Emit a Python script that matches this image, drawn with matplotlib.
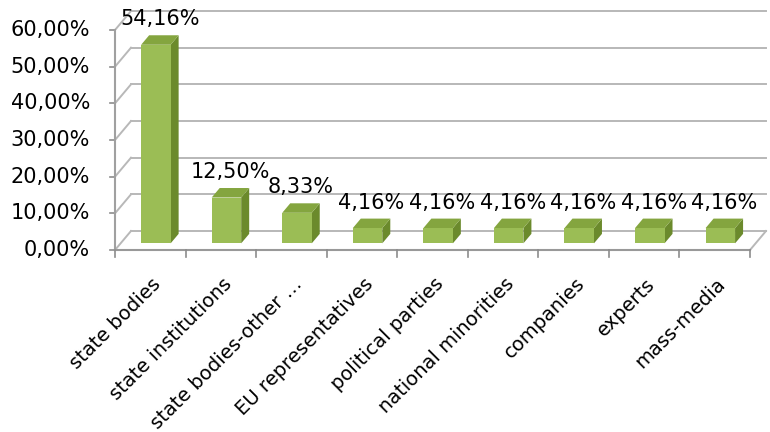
import matplotlib
matplotlib.use('Agg')
import matplotlib.pyplot as plt
from matplotlib.patches import Polygon

# datos
categorias = ['state bodies', 'state institutions', 'state bodies-other …',
              'EU representatives', 'political parties', 'national minorities',
              'companies', 'experts', 'mass-media']
valores = [54.16, 12.50, 8.33, 4.16, 4.16, 4.16, 4.16, 4.16, 4.16]
etiquetas = ['54,16%', '12,50%', '8,33%', '4,16%', '4,16%', '4,16%', '4,16%', '4,16%', '4,16%']
ticks_y = [0, 10, 20, 30, 40, 50, 60]
ticks_y_txt = ['0,00%', '10,00%', '20,00%', '30,00%', '40,00%', '50,00%', '60,00%']

plt.rcParams['font.family'] = ['DejaVu Sans']
fs = 15

fig = plt.figure(figsize=(7.7, 4.32), dpi=100)
ax = fig.add_axes([115 / 770, (432 - 250) / 432, 635 / 770, 220 / 432])
n = len(categorias)
ax.set_xlim(0, n)
ax.set_ylim(0, 60)
ax.axis('off')

# pixeles por unidad
px_x = 635 / n
px_y = 220 / 60.0
dx = 16 / px_x      # profundidad
dy = 19 / px_y

grid = '#b8b8b8'
# pared del fondo y lineas
for v in ticks_y:
    ax.plot([dx, n + dx], [v + dy, v + dy], color=grid, lw=1.4, clip_on=False, zorder=1)
    ax.plot([0, dx], [v, v + dy], color=grid, lw=1.4, clip_on=False, zorder=1)
    ax.plot([-5 / px_x, 0], [v, v], color='#8c8c8c', lw=1.2, clip_on=False, zorder=1)
# suelo
ax.plot([n, n + dx], [0, dy], color=grid, lw=1.4, clip_on=False, zorder=1)
ax.plot([0, n], [0, 0], color='#999999', lw=1.5, clip_on=False, zorder=1)
ax.plot([0, 0], [0, 60], color='#a0a0a0', lw=1.5, clip_on=False, zorder=1)
for i in range(n + 1):
    ax.plot([i, i], [0, -7 / px_y], color='#8c8c8c', lw=1.2, clip_on=False, zorder=1)

# barras 3d
f0, f1 = 0.35, 0.85
w = 29.5 / px_x
ddx = (f1 - f0) * dx
ddy = (f1 - f0) * dy
for i, v in enumerate(valores):
    cx = i + 0.5
    x0 = cx - w / 2 + f0 * dx
    x1 = x0 + w
    y0 = f0 * dy
    frente = [(x0, y0), (x1, y0), (x1, y0 + v), (x0, y0 + v)]
    lado = [(x1, y0), (x1 + ddx, y0 + ddy), (x1 + ddx, y0 + ddy + v), (x1, y0 + v)]
    tapa = [(x0, y0 + v), (x1, y0 + v), (x1 + ddx, y0 + v + ddy), (x0 + ddx, y0 + v + ddy)]
    ax.add_patch(Polygon(lado, closed=True, fc='#6b8a2c', ec='none', clip_on=False, zorder=3))
    ax.add_patch(Polygon(tapa, closed=True, fc='#84a53f', ec='none', clip_on=False, zorder=3))
    ax.add_patch(Polygon(frente, closed=True, fc='#9bbd55', ec='none', clip_on=False, zorder=4))
    ax.text(cx + (f0 + f1) / 2 * dx, v + f1 * dy + 16 / px_y, etiquetas[i],
            ha='center', va='center', fontsize=fs, color='black', zorder=5)

# etiquetas eje y
for v, t in zip(ticks_y, ticks_y_txt):
    ax.text(-25 / px_x, v, t, ha='right', va='center', fontsize=fs, color='black')

# etiquetas eje x
for i, c in enumerate(categorias):
    ax.text(i + 0.5 + 8 / px_x, -31 / px_y, c, rotation=45, rotation_mode='anchor',
            ha='right', va='center', fontsize=14, color='black')

plt.savefig('out.png', dpi=100)
